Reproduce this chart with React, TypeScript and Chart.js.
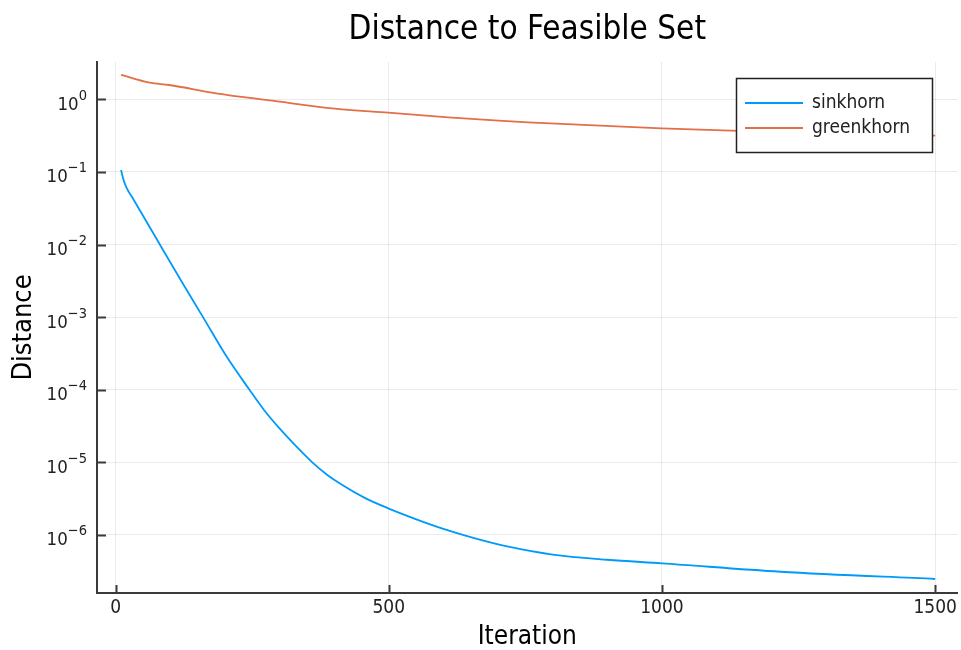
import React, { useEffect, useRef } from 'react';
import { Chart, registerables } from 'chart.js';

Chart.register(...registerables);

const TITLE = 'Distance to Feasible Set';
const X_LABEL = 'Iteration';
const Y_LABEL = 'Distance';
const X_TICKS = [0, 500, 1000, 1500];
const Y_EXPONENTS = [0, -1, -2, -3, -4, -5, -6];
const SERIES_NAMES = ['sinkhorn', 'greenkhorn'];
const SERIES_COLORS = ['#009afa', '#e26f46'];

const sinkhornIter = [10, 15, 20, 32, 50, 81, 120, 160, 202, 245, 272, 298, 329, 360, 387, 415, 456, 499, 548, 597, 658, 719, 800, 900, 1000, 1217, 1500];
const sinkhornDist = [
  0.1062, 0.07586, 0.06095, 0.04266, 0.02512, 0.01, 0.003162, 0.001, 2.958e-4, 1.0e-4,
  5.224e-5, 3.055e-5, 1.71e-5, 1.0e-5, 6.761e-6, 4.864e-6, 3.236e-6, 2.323e-6, 1.667e-6,
  1.233e-6, 8.974e-7, 6.887e-7, 5.358e-7, 4.55e-7, 4.064e-7, 3.112e-7, 2.472e-7,
];

const greenIter = [10, 62, 98, 184, 287, 397, 499, 609, 701, 755, 999, 1126, 1500];
const greenDist = [2.163, 1.694, 1.574, 1.211, 0.957, 0.752, 0.655, 0.565, 0.508, 0.482, 0.398, 0.37, 0.316];

const X_MIN = -34;
const X_MAX = 1541;
const Y_MIN = 1.585e-7;
const Y_MAX = 3.266;

const FONT = "'DejaVu Sans Condensed', 'DejaVu Sans', sans-serif";
const AXIS_COLOR = '#3a3a3a';
const TEXT_COLOR = '#222222';

const decoPlugin = {
  id: 'deco',
  afterDraw(chart: any) {
    const ctx = chart.ctx;
    const xs = chart.scales.x;
    const ys = chart.scales.y;
    const area = chart.chartArea;
    ctx.save();
    // inward tick marks
    ctx.strokeStyle = AXIS_COLOR;
    ctx.lineWidth = 2;
    for (const t of X_TICKS) {
      const px = Math.round(xs.getPixelForValue(t)) + 0.5;
      ctx.beginPath();
      ctx.moveTo(px, area.bottom);
      ctx.lineTo(px, area.bottom - 8);
      ctx.stroke();
    }
    for (const e of Y_EXPONENTS) {
      const py = Math.round(ys.getPixelForValue(Math.pow(10, e))) + 0.5;
      ctx.beginPath();
      ctx.moveTo(area.left, py);
      ctx.lineTo(area.left + 9, py);
      ctx.stroke();
    }
    // y tick labels with exponents
    ctx.fillStyle = TEXT_COLOR;
    ctx.textAlign = 'right';
    ctx.textBaseline = 'alphabetic';
    const rightEdge = area.left - 10;
    for (const e of Y_EXPONENTS) {
      const py = ys.getPixelForValue(Math.pow(10, e));
      const expText = e === 0 ? '0' : '\u2212' + Math.abs(e);
      ctx.font = `14.5px ${FONT}`;
      const ew = ctx.measureText(expText).width;
      ctx.fillText(expText, rightEdge, py + 0.5);
      ctx.font = `18.5px ${FONT}`;
      ctx.fillText('10', rightEdge - ew, py + 10.5);
    }
    // legend
    const lx = 736, ly = 78, lw = 196, lh = 74;
    ctx.fillStyle = '#ffffff';
    ctx.fillRect(lx, ly, lw, lh);
    ctx.strokeStyle = '#222222';
    ctx.lineWidth = 1.5;
    ctx.strokeRect(lx + 0.5, ly + 0.5, lw, lh);
    ctx.font = `19px ${FONT}`;
    ctx.textAlign = 'left';
    ctx.textBaseline = 'middle';
    SERIES_NAMES.forEach((name, i) => {
      const yy = 103 + i * 25;
      ctx.strokeStyle = SERIES_COLORS[i];
      ctx.lineWidth = 2;
      ctx.beginPath();
      ctx.moveTo(745, yy);
      ctx.lineTo(803, yy);
      ctx.stroke();
      ctx.fillStyle = TEXT_COLOR;
      ctx.fillText(name, 812, yy);
    });
    ctx.restore();
  },
};

export default function App() {
  const ref = useRef<HTMLCanvasElement | null>(null);

  useEffect(() => {
    document.body.style.margin = '0';
    const canvas = ref.current;
    if (!canvas) return;
    const chart = new Chart(canvas, {
      type: 'line',
      data: {
        datasets: [
          {
            label: SERIES_NAMES[0],
            data: sinkhornIter.map((x, i) => ({ x, y: sinkhornDist[i] })),
            borderColor: SERIES_COLORS[0],
            borderWidth: 1.8,
            pointRadius: 0,
            cubicInterpolationMode: 'monotone',
            fill: false,
          },
          {
            label: SERIES_NAMES[1],
            data: greenIter.map((x, i) => ({ x, y: greenDist[i] })),
            borderColor: SERIES_COLORS[1],
            borderWidth: 1.8,
            pointRadius: 0,
            cubicInterpolationMode: 'monotone',
            fill: false,
          },
        ],
      },
      options: {
        responsive: false,
        animation: false,
        devicePixelRatio: 1,
        layout: { padding: { left: 0, right: 0, top: 0, bottom: 0 } },
        plugins: {
          legend: { display: false },
          tooltip: { enabled: false },
          title: {
            display: true,
            text: TITLE,
            fullSize: false,
            color: '#000000',
            font: { family: FONT, size: 33, weight: 'normal', lineHeight: 1.2 },
            padding: { top: 11, bottom: 11.4 },
          },
        },
        scales: {
          x: {
            type: 'linear',
            min: X_MIN,
            max: X_MAX,
            afterBuildTicks: (s: any) => {
              s.ticks = X_TICKS.map((v) => ({ value: v }));
            },
            afterFit: (s: any) => {
              s.height = 57;
            },
            grid: { color: 'rgba(0,0,0,0.08)', lineWidth: 1, drawTicks: false },
            border: { display: true, color: AXIS_COLOR, width: 2 },
            ticks: {
              font: { family: FONT, size: 19 },
              color: TEXT_COLOR,
              padding: 4,
              maxRotation: 0,
              callback: (v: any) => String(v),
            },
            title: {
              display: true,
              text: X_LABEL,
              color: '#000000',
              font: { family: FONT, size: 26, lineHeight: 1 },
              padding: { top: 0, bottom: 0 },
            },
          },
          y: {
            type: 'logarithmic',
            min: Y_MIN,
            max: Y_MAX,
            afterBuildTicks: (s: any) => {
              s.ticks = Y_EXPONENTS.map((e) => ({ value: Math.pow(10, e) }));
            },
            afterFit: (s: any) => {
              s.width = 97;
            },
            grid: { color: 'rgba(0,0,0,0.08)', lineWidth: 1, drawTicks: false },
            border: { display: true, color: AXIS_COLOR, width: 2 },
            ticks: { display: false },
            title: {
              display: true,
              text: Y_LABEL,
              color: '#000000',
              font: { family: FONT, size: 27, lineHeight: 1 },
              padding: { top: 10, bottom: 0 },
            },
          },
        },
      },
      plugins: [decoPlugin],
    } as any);
    return () => chart.destroy();
  }, []);

  return (
    <div style={{ width: 961, height: 650, background: '#ffffff' }}>
      <canvas ref={ref} width={961} height={650} style={{ width: 961, height: 650, display: 'block' }} />
    </div>
  );
}
